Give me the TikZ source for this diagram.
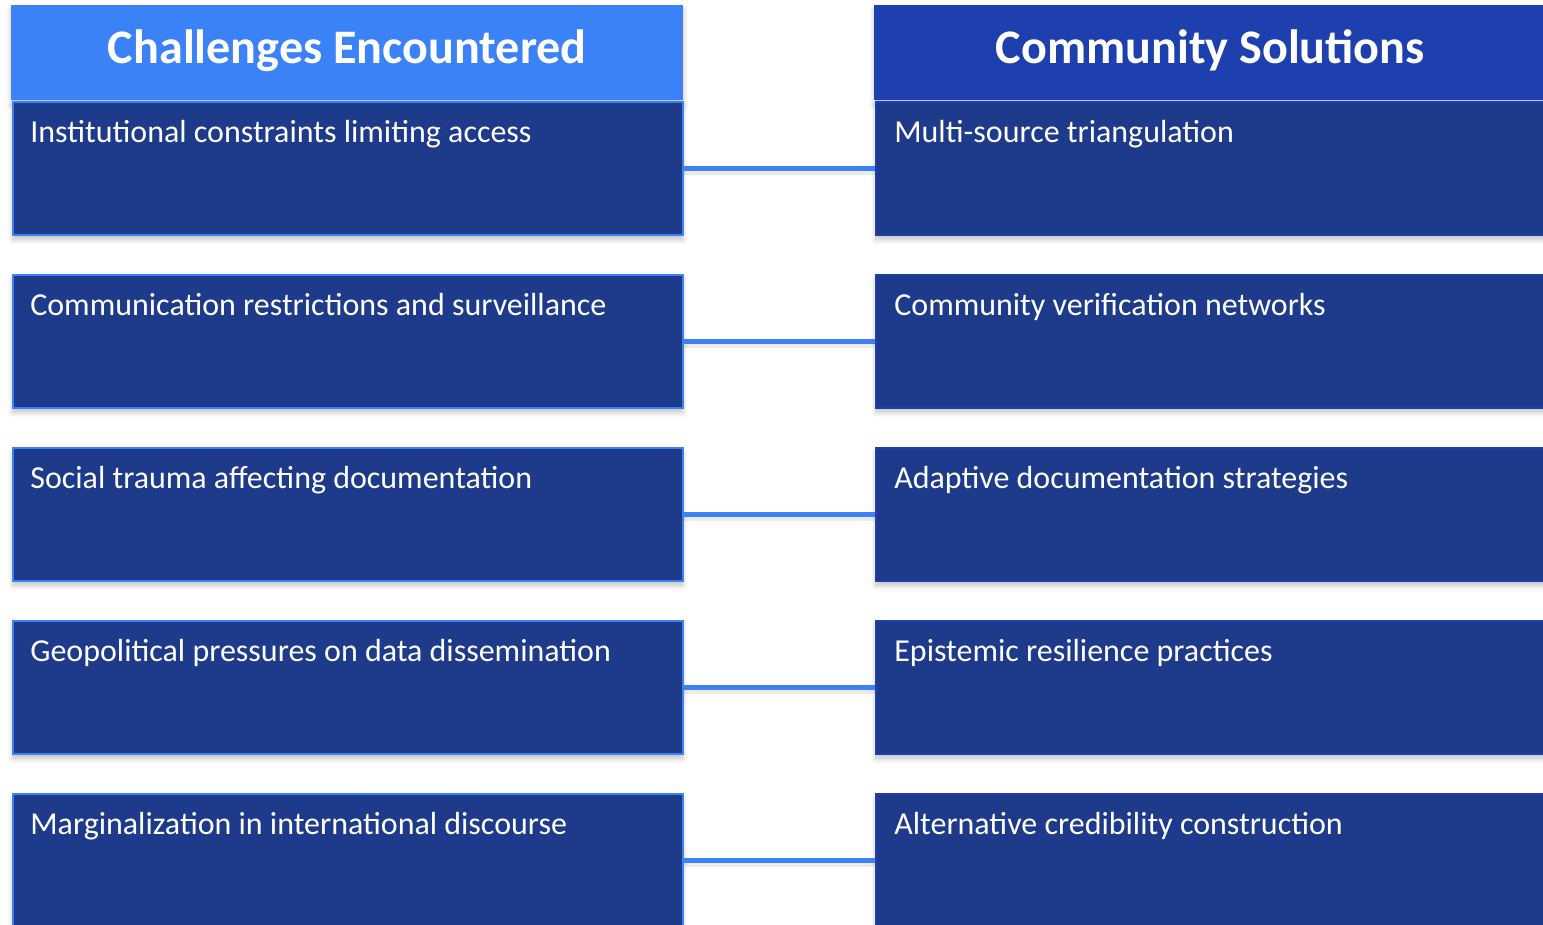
\documentclass[tikz,border=0pt]{standalone}
\usepackage{fontspec}
\setmainfont{Carlito}
\usetikzlibrary{shadows.blur}
\definecolor{skyblue}{HTML}{3B82F6}
\definecolor{royalblue}{HTML}{1E40AF}
\definecolor{navyblue}{HTML}{1E3A8A}

\begin{document}
\begin{tikzpicture}[x=0.02cm, y=-0.02cm,
    softshadow/.style={blur shadow={shadow blur steps=6, shadow xshift=0pt, shadow yshift=-2.5pt, shadow blur radius=3pt, shadow opacity=25}},
    header/.style={rectangle, minimum width=13.44cm, minimum height=1.9cm, inner sep=0pt, anchor=north west},
    chbox/.style={rectangle, fill=navyblue, draw=skyblue, line width=1.1pt, minimum width=13.4cm, minimum height=2.66cm, inner sep=0pt, anchor=north west, softshadow},
    solbox/.style={chbox, draw=royalblue},
    title/.style={text=white, font=\bfseries\fontsize{27.4}{32}\selectfont, anchor=base},
    txt/.style={text=white, font=\fontsize{18.2}{22}\selectfont, anchor=base west, inner sep=0pt},
    link/.style={draw=skyblue, line width=3pt},
    linkshade/.style={draw=black, opacity=0.08, line width=4pt}]
  \useasboundingbox (0,0) rectangle (1543,924);
  \clip (0,0) rectangle (1543,924);

  % column headers
  \node[header, fill=skyblue, softshadow] (hleft) at (11,5) {};
  \node[header, fill=royalblue, softshadow] (hright) at (874,5) {};
  \node[title] (tleft) at ([yshift=-58*0.02cm]hleft.north) {Challenges Encountered};
  \node[title] (tright) at ([yshift=-58*0.02cm]hright.north) {Community Solutions};

  % rows
  \foreach \i/\ch/\so in {1/Institutional constraints limiting access/Multi-source triangulation,
      2/Communication restrictions and surveillance/Community verification networks,
      3/Social trauma affecting documentation/Adaptive documentation strategies,
      4/Geopolitical pressures on data dissemination/Epistemic resilience practices,
      5/Marginalization in international discourse/Alternative credibility construction} {
    \node[chbox] (c\i) at (12,{101+173*(\i-1)}) {};
    \node[solbox] (s\i) at (875,{101+173*(\i-1)}) {};
    \draw[linkshade] ([yshift=-2pt]c\i.east) -- ([yshift=-2pt]s\i.west);
    \draw[link] (c\i.east) -- (s\i.west);
    \node[txt] (ct\i) at ([xshift=18*0.02cm, yshift=-41*0.02cm]c\i.north west) {\ch};
    \node[txt] (st\i) at ([xshift=19*0.02cm, yshift=-41*0.02cm]s\i.north west) {\so};
  }
\end{tikzpicture}
\end{document}
